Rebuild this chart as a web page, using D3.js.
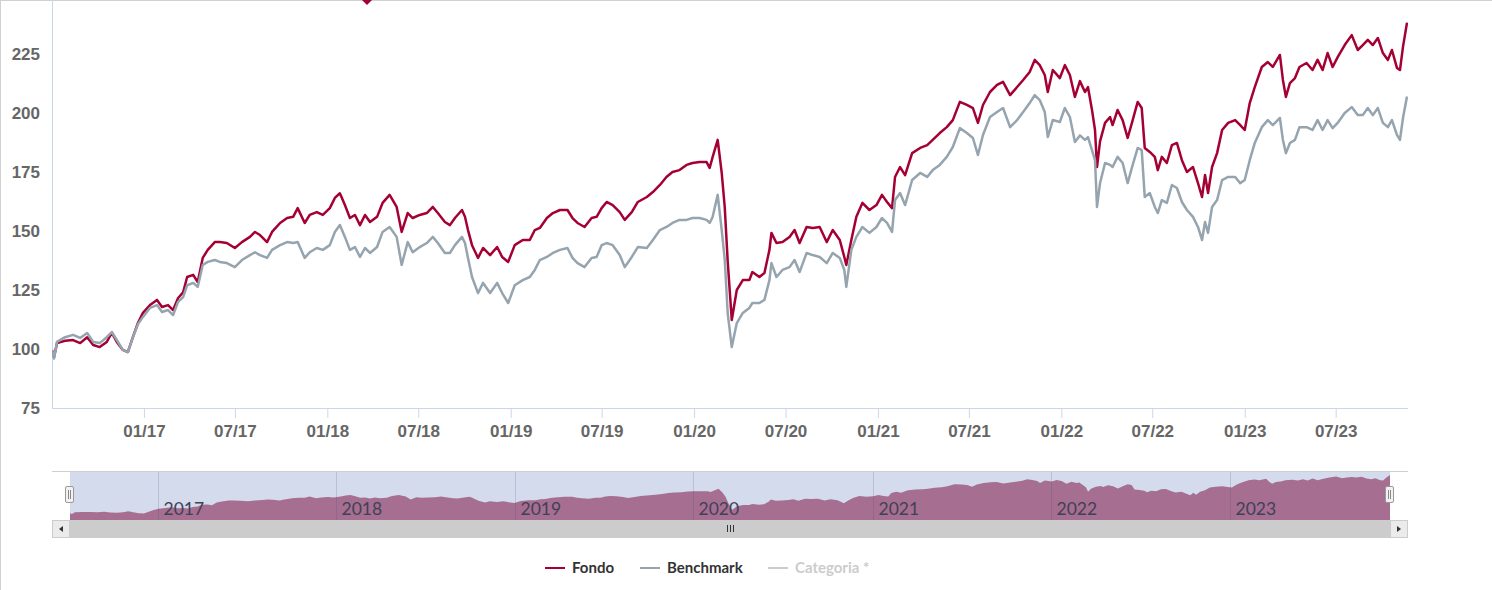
<!DOCTYPE html>
<html>
<head>
<meta charset="utf-8">
<script src="https://cdn.jsdelivr.net/npm/d3@7"></script>
<style>
  html, body { margin: 0; padding: 0; background: #fff; }
  svg { display: block; font-family: Lato, "Open Sans", sans-serif; }
</style>
</head>
<body>
<svg id="chart" width="1492" height="590"></svg>
<script>
// series
const dates = [
  "2016-07-02","2016-07-06","2016-07-12","2016-07-28","2016-08-13","2016-08-27","2016-09-10","2016-09-22",
  "2016-10-05","2016-10-19","2016-10-29","2016-11-08","2016-11-20","2016-11-30","2016-12-10","2016-12-20",
  "2016-12-30","2017-01-13","2017-01-27","2017-02-06","2017-02-18","2017-02-28","2017-03-10","2017-03-20",
  "2017-03-28","2017-04-09","2017-04-18","2017-04-28","2017-05-08","2017-05-22","2017-06-01","2017-06-15",
  "2017-07-01","2017-07-15","2017-07-31","2017-08-10","2017-08-20","2017-09-03","2017-09-13","2017-09-29",
  "2017-10-13","2017-10-25","2017-11-03","2017-11-17","2017-11-27","2017-12-11","2017-12-23","2018-01-06",
  "2018-01-16","2018-01-26","2018-02-05","2018-02-15","2018-02-25","2018-03-07","2018-03-17","2018-03-27",
  "2018-04-10","2018-04-21","2018-05-05","2018-05-19","2018-05-29","2018-06-10","2018-06-20","2018-07-04",
  "2018-07-18","2018-07-30","2018-08-09","2018-08-23","2018-09-02","2018-09-12","2018-09-26","2018-10-02",
  "2018-10-08","2018-10-16","2018-10-28","2018-11-07","2018-11-21","2018-12-05","2018-12-15","2018-12-27",
  "2019-01-09","2019-01-25","2019-02-08","2019-02-18","2019-02-28","2019-03-14","2019-03-26","2019-04-09",
  "2019-04-24","2019-05-04","2019-05-14","2019-05-28","2019-06-11","2019-06-21","2019-07-01","2019-07-11",
  "2019-07-23","2019-08-06","2019-08-16","2019-08-30","2019-09-11","2019-09-29","2019-10-11","2019-10-25",
  "2019-11-07","2019-11-19","2019-12-03","2019-12-17","2019-12-29","2020-01-12","2020-01-26","2020-02-01",
  "2020-02-07","2020-02-17","2020-02-25","2020-03-02","2020-03-08","2020-03-16","2020-03-26","2020-04-07",
  "2020-04-20","2020-04-26","2020-05-10","2020-05-20","2020-05-30","2020-06-03","2020-06-13","2020-06-25",
  "2020-07-09","2020-07-19","2020-07-29","2020-08-12","2020-08-24","2020-09-07","2020-09-21","2020-10-03",
  "2020-10-17","2020-10-26","2020-10-30","2020-11-09","2020-11-19","2020-12-01","2020-12-15","2020-12-29",
  "2021-01-09","2021-01-19","2021-01-29","2021-02-04","2021-02-14","2021-02-24","2021-03-10","2021-03-26",
  "2021-04-09","2021-04-20","2021-05-04","2021-05-18","2021-05-30","2021-06-13","2021-06-27","2021-07-09",
  "2021-07-19","2021-07-29","2021-08-12","2021-08-26","2021-09-07","2021-09-21","2021-10-05","2021-10-17",
  "2021-10-30","2021-11-09","2021-11-19","2021-11-29","2021-12-05","2021-12-15","2021-12-29","2022-01-08",
  "2022-01-18","2022-01-28","2022-02-07","2022-02-17","2022-02-23","2022-03-03","2022-03-09","2022-03-13",
  "2022-03-19","2022-03-29","2022-04-08","2022-04-13","2022-04-23","2022-05-03","2022-05-13","2022-05-23",
  "2022-06-02","2022-06-10","2022-06-16","2022-06-26","2022-07-06","2022-07-12","2022-07-20","2022-07-30",
  "2022-08-09","2022-08-19","2022-08-29","2022-09-08","2022-09-20","2022-09-30","2022-10-08","2022-10-14",
  "2022-10-20","2022-10-28","2022-11-07","2022-11-17","2022-11-29","2022-12-13","2022-12-23","2023-01-01",
  "2023-01-11","2023-01-21","2023-02-04","2023-02-16","2023-02-26","2023-03-12","2023-03-18","2023-03-24",
  "2023-04-01","2023-04-11","2023-04-20","2023-05-04","2023-05-16","2023-05-26","2023-06-05","2023-06-15",
  "2023-06-25","2023-07-05","2023-07-19","2023-08-02","2023-08-14","2023-08-24","2023-09-03","2023-09-13",
  "2023-09-23","2023-10-03","2023-10-13","2023-10-21","2023-10-31","2023-11-06","2023-11-12","2023-11-20"
];

const fondo = [
  99.5, 96.5, 102.5, 103.5, 103.8, 102.5, 105, 101.7,
  100.8, 103, 106.8, 103, 99.6, 98.7, 105, 111,
  115.3, 118.6, 120.8, 117.8, 118.6, 116.5, 121.6, 124,
  130.5, 131.4, 128.4, 138.6, 142, 145.3, 145.3, 144.9,
  142.8, 145.3, 147.5, 149.6, 148.3, 145.3, 149.6, 153.4,
  155.5, 156, 159.7, 153.4, 156.8, 158, 156.8, 159.7,
  164, 166, 161, 155.5, 156.8, 152.5, 156.8, 153.8,
  156, 161.9, 165.3, 160.2, 149.6, 157.6, 155.5, 156.8,
  157.6, 160.2, 157.6, 153.8, 152.5, 155.5, 158.9, 156,
  150.4, 144, 138.6, 142.8, 139.8, 143.2, 139, 136.9,
  144, 146.2, 146.2, 150.4, 151.3, 155.5, 157.6, 158.9,
  158.9, 155.5, 153.4, 151.7, 155.5, 156, 159.7, 162.3,
  161, 158, 154.7, 158, 162.3, 164.4, 166.5, 169.5,
  172.9, 175, 175.8, 178, 178.8, 179.2, 179.2, 176.7,
  181.4, 188.6, 174.6, 160.2, 136.9, 112.3, 125, 129.2,
  129.2, 132.6, 130.5, 132.2, 142, 149.2, 144.9, 145.3,
  147.5, 150.4, 144.9, 151.7, 151.3, 151.7, 145.3, 150.4,
  146.2, 139, 135.6, 146.2, 156, 161.9, 158.9, 161,
  165.3, 162.3, 159.7, 172.9, 177.1, 173.7, 183, 185.2,
  186.4, 188.6, 191.5, 194, 197, 204.7, 203.4, 202.1,
  195.8, 203.4, 208.9, 211.9, 213.2, 207.6, 211, 214,
  217.4, 222.5, 220.3, 216.1, 208.9, 218.2, 214.8, 220.3,
  216.1, 206.8, 213.5, 208.9, 211, 201.3, 192.8, 177.1,
  188, 195.8, 198.3, 194.9, 201.3, 197, 189.4, 197,
  204.7, 202.1, 185.2, 183.5, 181.4, 175.8, 181.4, 178.8,
  186.4, 187.3, 180, 175, 177.1, 170.3, 164.4, 173.7,
  166.1, 177.1, 183, 192.8, 195.8, 197, 194.9, 192.8,
  204.2, 211, 219.5, 221.6, 219.5, 224.6, 214, 206.8,
  212.7, 214.8, 219.5, 221.2, 218.2, 222.5, 218.2, 225.4,
  219.5, 223.7, 228.8, 233, 226.7, 228.8, 231, 228.8,
  231.8, 225.4, 222.5, 226.7, 219.1, 218.2, 228, 238.3
];

const benchmark = [
  99.5, 96, 103, 105, 106, 104.7, 106.8, 103,
  102.5, 105, 107.2, 103.8, 99.6, 98.7, 105, 110.5,
  113.6, 117.4, 118.6, 115.7, 116.5, 114.4, 120, 122,
  127, 128, 126.3, 135.6, 136.9, 137.7, 136.9, 136.4,
  134.7, 137.7, 139.8, 141, 139.8, 138.6, 142, 144,
  145.3, 144.9, 145.3, 138.6, 141, 142.8, 142, 144,
  149.6, 152.5, 147.5, 142, 143.2, 139, 142.8, 140.7,
  143.2, 149.6, 151.7, 147.5, 135.6, 145.3, 141, 143.2,
  144.9, 147.5, 144.9, 140.7, 140.7, 144, 147.5, 144.9,
  138.6, 130.5, 123.7, 128, 123.7, 128, 123.7, 119.5,
  127, 129.2, 130.5, 133.5, 137.7, 139, 140.7, 142,
  142.8, 138.6, 136.4, 134.7, 138.6, 139, 144, 144.9,
  144, 139.8, 134.7, 139, 143.2, 142.8, 146.2, 150.4,
  151.7, 153.4, 154.7, 154.7, 155.5, 155.5, 154.7, 153.4,
  156, 165.3, 150.4, 138, 115, 100.8, 111, 115.3,
  117.4, 119.5, 119.5, 120.8, 129.2, 136.4, 130.5, 133.5,
  134.7, 137.7, 132.6, 140.7, 139.8, 139, 136.4, 140.7,
  138.6, 133.5, 126.3, 142, 147.5, 151.7, 149.2, 151.7,
  155.5, 153.4, 149.6, 163.1, 166.1, 161, 171.6, 174.6,
  172.9, 175.8, 178, 181.4, 185.6, 193.6, 191.5, 189.4,
  182.2, 190.7, 198.3, 200.4, 202.1, 194, 197, 200.4,
  204.2, 207.6, 205.5, 200.4, 189.8, 197, 196.2, 202.1,
  198.3, 187.7, 190.5, 188.6, 189.8, 184.3, 180, 160.2,
  170.3, 178.8, 178, 177.1, 181.4, 178.8, 170.3, 178,
  185.2, 184.3, 164.4, 166.1, 160.2, 157.6, 163.1, 161.9,
  169.5, 168.2, 162.3, 158.9, 156, 151.7, 146.2, 153.8,
  149.2, 160.2, 163.1, 171.6, 172.9, 172.9, 170.3, 171.6,
  180, 187.3, 194, 197, 194.9, 197.9, 188.6, 183,
  187.3, 188.6, 194, 194, 192.8, 197, 192.8, 197,
  193.6, 195.8, 200, 202.5, 199.1, 199.1, 202.1, 199.1,
  202.1, 195.8, 194, 197, 190.7, 188.6, 197.9, 207
];

const yTicks = [75, 100, 125, 150, 175, 200, 225];
const xTicks = ["2017-01-01","2017-07-01","2018-01-01","2018-07-01","2019-01-01","2019-07-01","2020-01-01",
  "2020-07-01","2021-01-01","2021-07-01","2022-01-01","2022-07-01","2023-01-01","2023-07-01"];
const navYears = ["2017","2018","2019","2020","2021","2022","2023"];
const flagDates = ["2018-03-21"];
const seriesNames = ["Fondo", "Benchmark", "Categoria *"];
const seriesColors = ["#a50034", "#95a4ae", "#cccccc"];

const parse = d3.timeParse("%Y-%m-%d");
const rows = dates.map((d, i) => ({ date: parse(d), fondo: fondo[i], benchmark: benchmark[i] }));

const svg = d3.select("#chart");
const W = 1492, H = 590;
const plot = { left: 52, right: 1408, top: 0, bottom: 408 };

// frame
svg.append("line").attr("x1", 0).attr("x2", W).attr("y1", 0.5).attr("y2", 0.5).attr("stroke", "#d0d0d0");
svg.append("line").attr("x1", 0.5).attr("x2", 0.5).attr("y1", 0).attr("y2", H).attr("stroke", "#d0d0d0");

const x = d3.scaleTime()
  .domain(d3.extent(rows, d => d.date))
  .range([plot.left, plot.right - 1]);
const y = d3.scaleLinear().domain([75, 225]).range([plot.bottom, 54]);

svg.append("defs").append("clipPath").attr("id", "clip")
  .append("rect").attr("x", plot.left).attr("y", plot.top)
  .attr("width", plot.right - plot.left).attr("height", plot.bottom - plot.top);

// axes
const xAxis = d3.axisBottom(x)
  .tickValues(xTicks.map(parse))
  .tickFormat(d3.timeFormat("%m/%y"))
  .tickSize(10).tickPadding(7);
const gx = svg.append("g").attr("transform", `translate(0,${plot.bottom})`).call(xAxis);
gx.select(".domain").attr("d", `M${plot.left},0.5H${plot.right}`).attr("stroke", "#ccd6eb");
gx.selectAll(".tick line").attr("stroke", "#ccd6eb");
gx.selectAll("text").attr("fill", "#666").style("font-size", "17px").style("font-weight", "600");

const yAxis = d3.axisLeft(y).tickValues(yTicks).tickSize(0).tickPadding(12);
const gy = svg.append("g").attr("transform", `translate(${plot.left},0)`).call(yAxis);
gy.select(".domain").remove();
gy.selectAll("text").attr("fill", "#666").style("font-size", "17px").style("font-weight", "600");
svg.append("line").attr("x1", plot.left + 0.5).attr("x2", plot.left + 0.5)
  .attr("y1", 0).attr("y2", plot.bottom).attr("stroke", "#ccd6eb");

// series
const lineFor = key => d3.line().x(d => x(d.date)).y(d => y(d[key]));
const gLines = svg.append("g").attr("clip-path", "url(#clip)");
[["fondo", seriesColors[0]], ["benchmark", seriesColors[1]]].forEach(([key, col]) => {
  gLines.append("path").datum(rows)
    .attr("d", lineFor(key))
    .attr("fill", "none").attr("stroke", col)
    .attr("stroke-width", 2.5).attr("stroke-linejoin", "round");
});

// flag marker peeking in at the top
svg.selectAll(".flag").data(flagDates).join("path")
  .attr("class", "flag")
  .attr("transform", d => `translate(${x(parse(d))},-1)`)
  .attr("d", "M-6,0L0,-6L6,0L0,6Z")
  .attr("fill", seriesColors[0]);

// navigator
const nav = { left: 70, right: 1390, top: 471, bottom: 520 };
const navX = d3.scaleTime().domain(x.domain()).range([nav.left, nav.right]);
const navY = d3.scaleLinear().domain(d3.extent(fondo)).range([514, 475]);

svg.append("rect").attr("x", nav.left).attr("y", nav.top)
  .attr("width", nav.right - nav.left).attr("height", nav.bottom - nav.top)
  .attr("fill", "#d3dbec");
svg.append("path").datum(rows)
  .attr("d", d3.area().x(d => navX(d.date)).y0(nav.bottom).y1(d => navY(d.fondo)))
  .attr("fill", "#a66e91");

const gNavYears = svg.append("g");
navYears.forEach(yr => {
  const xx = Math.round(navX(parse(yr + "-01-01"))) - 1.5;
  gNavYears.append("line").attr("x1", xx).attr("x2", xx)
    .attr("y1", nav.top).attr("y2", nav.bottom)
    .attr("stroke", "rgba(60,70,110,0.18)");
  gNavYears.append("text").attr("x", xx + 5).attr("y", 515)
    .attr("fill", "#3f4156").style("font-size", "17.5px").text(yr);
});
svg.append("line").attr("x1", plot.left).attr("x2", plot.right)
  .attr("y1", nav.top + 0.5).attr("y2", nav.top + 0.5).attr("stroke", "#cfcfcf");

// navigator handles
[nav.left, nav.right].forEach(hx => {
  const g = svg.append("g").attr("transform", `translate(${hx},0)`);
  g.append("rect").attr("x", -4.5).attr("y", 486.5).attr("width", 8).attr("height", 16)
    .attr("rx", 1.5).attr("fill", "#f2f2f2").attr("stroke", "#999");
  [-1.5, 0.5].forEach(o => g.append("line").attr("x1", o).attr("x2", o)
    .attr("y1", 490).attr("y2", 499).attr("stroke", "#888"));
});

// scrollbar
const sb = { top: 520, h: 18 };
svg.append("rect").attr("x", plot.left).attr("y", sb.top).attr("width", plot.right - plot.left)
  .attr("height", sb.h).attr("fill", "#f2f2f2");
svg.append("rect").attr("x", nav.left).attr("y", sb.top).attr("width", nav.right - nav.left)
  .attr("height", sb.h).attr("fill", "#cccccc");
[[plot.left, -1], [nav.right, 1]].forEach(([bx, dir]) => {
  svg.append("rect").attr("x", bx + 0.5).attr("y", sb.top + 0.5).attr("width", 17).attr("height", sb.h - 1)
    .attr("fill", "#ebebeb").attr("stroke", "#cccccc");
  svg.append("path").attr("d", "M-2,-3L2,0L-2,3Z")
    .attr("transform", `translate(${bx + 9},${sb.top + 9}) scale(${dir},1)`)
    .attr("fill", "#333");
});
const gripX = (nav.left + nav.right) / 2;
[-3, 0, 3].forEach(o => svg.append("line")
  .attr("x1", gripX + o + 0.5).attr("x2", gripX + o + 0.5)
  .attr("y1", sb.top + 5).attr("y2", sb.top + 12).attr("stroke", "#333"));

// legend
const legendX = [545, 640, 768];
const gLeg = svg.append("g").attr("transform", "translate(0,568)");
seriesNames.forEach((name, i) => {
  gLeg.append("line").attr("x1", legendX[i]).attr("x2", legendX[i] + 20)
    .attr("y1", 0).attr("y2", 0).attr("stroke", seriesColors[i]).attr("stroke-width", 2);
  gLeg.append("text").attr("x", legendX[i] + 27).attr("y", 5)
    .attr("fill", i === 2 ? "#cccccc" : "#333333")
    .style("font-size", "15px").style("font-weight", "bold").text(name);
});
</script>
</body>
</html>
